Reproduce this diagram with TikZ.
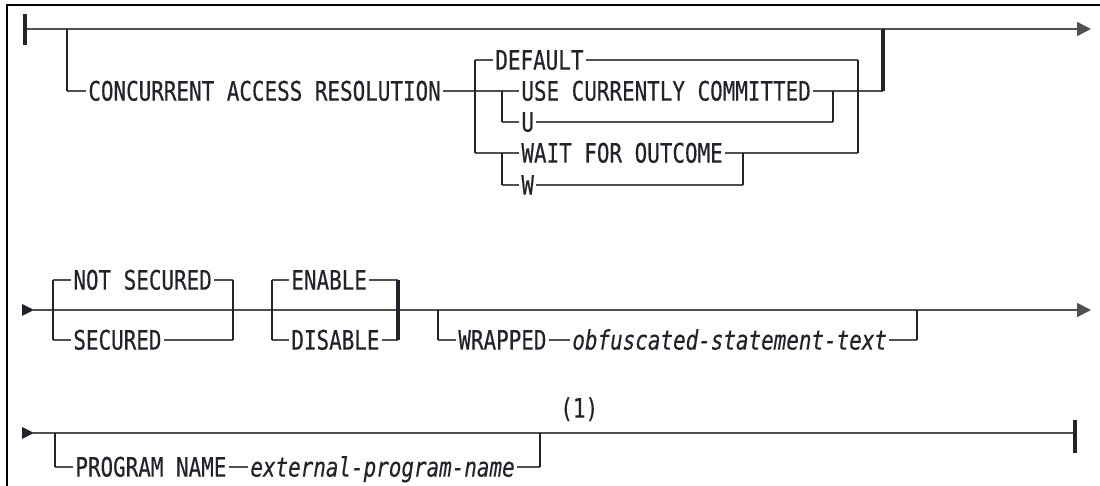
\documentclass[tikz,border=0pt]{standalone}
\usepackage{fontspec}
\setmonofont[FakeStretch=0.78,FakeBold=0.4]{DejaVu Sans Mono}
\usepackage{tikz}
\usetikzlibrary{arrows.meta,positioning}
\definecolor{ink}{RGB}{35,35,45}
\definecolor{railgray}{RGB}{80,80,80}

\begin{document}
\begin{tikzpicture}[x=0.5pt,y=-0.5pt,>={Triangle[length=7pt,width=7pt]},
    font=\ttfamily\fontsize{13.4}{16}\selectfont,
    kw/.style={anchor=west,inner xsep=1pt,inner ysep=0pt,
               text height=9.6pt,text depth=0pt,text=ink},
    var/.style={kw,font=\ttfamily\itshape\fontsize{13.4}{16}\selectfont},
    rail/.style={draw=railgray,line width=0.8pt},
    fork/.style={draw=ink,line width=1.2pt},
    bar/.style={draw=ink,line width=1.9pt}]
  \useasboundingbox (0,0) rectangle (1100,486);
  \draw[black,line width=0.8pt] (7,486) -- (7,5) -- (1100,5);

  % --- first line: concurrent access resolution
  \coordinate (s1) at (25,29);
  \coordinate (e1) at (1091,29);
  \draw[rail,->] (s1) -- (e1);
  \draw[bar] (25,14) -- (25,45);
  \node[kw] (car)  at (86,91)   {CONCURRENT ACCESS RESOLUTION};
  \node[kw] (dflt) at (493,60)  {DEFAULT};
  \node[kw] (use)  at (519,91)  {USE CURRENTLY COMMITTED};
  \node[kw] (u)    at (519,122) {U};
  \node[kw] (wait) at (519,153) {WAIT FOR OUTCOME};
  \node[kw] (w)    at (519,185) {W};
  \coordinate (a1) at (67,29);  \coordinate (a2) at (67,91);
  \coordinate (b1) at (883,29); \coordinate (b2) at (883,91);
  \coordinate (c1) at (475,60); \coordinate (c2) at (475,153);
  \coordinate (d1) at (858,60); \coordinate (d2) at (858,153);
  \coordinate (g1) at (502,91); \coordinate (g2) at (502,122);
  \coordinate (g3) at (502,153); \coordinate (g4) at (502,185);
  \coordinate (h1) at (833,91); \coordinate (h2) at (833,122);
  \coordinate (m1) at (743,153); \coordinate (m2) at (743,185);
  \draw[rail] (a2) -- (car.west);
  \draw[rail] (car.east) -- (use.west);
  \draw[rail] (use.east) -- (b2);
  \draw[rail] (c1) -- (dflt.west);
  \draw[rail] (dflt.east) -- (d1);
  \draw[rail] (g2) -- (u.west);
  \draw[rail] (u.east) -- (h2);
  \draw[rail] (c2) -- (wait.west);
  \draw[rail] (wait.east) -- (d2);
  \draw[rail] (g4) -- (w.west);
  \draw[rail] (w.east) -- (m2);
  \draw[fork] (a1) -- (a2);
  \draw[fork] (c1) -- (c2);
  \draw[fork] (d1) -- (d2);
  \draw[fork] (g1) -- (g2);
  \draw[fork] (g3) -- (g4);
  \draw[fork] (h1) -- (h2);
  \draw[fork] (m1) -- (m2);
  \draw[bar] (b1) -- (b2);

  % --- second line: secured, enable, wrapped
  \fill[ink] (22,304) -- (34,310) -- (22,316) -- cycle;
  \coordinate (s2) at (33,310);
  \coordinate (e2) at (1091,310);
  \draw[rail,->] (s2) -- (e2);
  \node[kw]  (ns)  at (71,280)  {NOT SECURED};
  \node[kw]  (sec) at (71,340)  {SECURED};
  \node[kw]  (en)  at (289,280) {ENABLE};
  \node[kw]  (dis) at (289,340) {DISABLE};
  \node[kw]  (wr)  at (456,340) {WRAPPED};
  \node[var] (obf) at (570,340) {obfuscated-statement-text};
  \coordinate (n1) at (53,280);  \coordinate (n2) at (53,340);
  \coordinate (p1) at (233,280); \coordinate (p2) at (233,340);
  \coordinate (q1) at (272,280); \coordinate (q2) at (272,340);
  \coordinate (t1) at (398,280); \coordinate (t2) at (398,340);
  \coordinate (v1) at (438,310); \coordinate (v2) at (438,340);
  \coordinate (z1) at (917,310); \coordinate (z2) at (917,340);
  \draw[rail] (n1) -- (ns.west);
  \draw[rail] (ns.east) -- (p1);
  \draw[rail] (n2) -- (sec.west);
  \draw[rail] (sec.east) -- (p2);
  \draw[rail] (q1) -- (en.west);
  \draw[rail] (en.east) -- (t1);
  \draw[rail] (q2) -- (dis.west);
  \draw[rail] (dis.east) -- (t2);
  \draw[rail] (v2) -- (wr.west);
  \draw[rail] (wr.east) -- (obf.west);
  \draw[rail] (obf.east) -- (z2);
  \draw[fork] (n1) -- (n2);
  \draw[fork] (p1) -- (p2);
  \draw[fork] (q1) -- (q2);
  \draw[bar]  (t1) -- (t2);
  \draw[fork] (v1) -- (v2);
  \draw[fork] (z1) -- (z2);

  % --- third line: program name
  \fill[ink] (22,427) -- (34,433) -- (22,439) -- cycle;
  \coordinate (s3) at (33,433);
  \coordinate (e3) at (1075,433);
  \draw[rail] (s3) -- (e3);
  \draw[bar] (1075,420) -- (1075,453);
  \node[kw]  (pn)   at (73,467)  {PROGRAM NAME};
  \node[var] (ext)  at (248,467) {external-program-name};
  \node[kw]  (note) at (558,408) {(1)};
  \coordinate (x1) at (55,433);  \coordinate (x2) at (55,467);
  \coordinate (y1) at (540,433); \coordinate (y2) at (540,467);
  \draw[rail] (x2) -- (pn.west);
  \draw[rail] (pn.east) -- (ext.west);
  \draw[rail] (ext.east) -- (y2);
  \draw[fork] (x1) -- (x2);
  \draw[fork] (y1) -- (y2);
\end{tikzpicture}
\end{document}
